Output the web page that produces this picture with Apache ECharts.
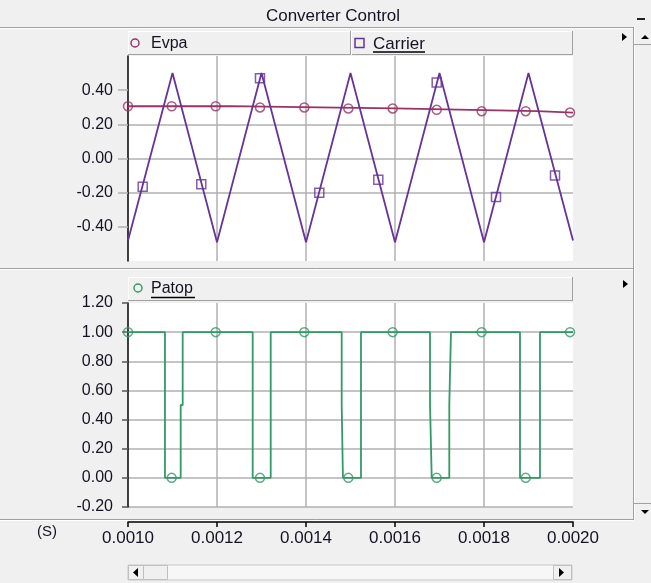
<!DOCTYPE html>
<html><head><meta charset="utf-8">
<script src="https://cdn.jsdelivr.net/npm/echarts@6/dist/echarts.min.js"></script>
<style>html,body{margin:0;padding:0;background:#f0f0f0}#c{width:651px;height:583px}</style>
</head><body><div id="c"></div><script>
// ---- data (time in seconds) ----
const timeMin = 0.0010, timeMax = 0.0020, timeStep = 0.0002;
const topYTicks = [-0.4, -0.2, 0.0, 0.2, 0.4];

const evpaT = [0.0010, 0.00123, 0.00143, 0.00160, 0.00177, 0.00192, 0.0020];
const evpaV = [0.306, 0.299, 0.293, 0.285, 0.277, 0.269, 0.269];
const evpaMarkT = [0.0010, 0.0010982, 0.0011971, 0.0012966, 0.0013962, 0.0014951, 0.0015948, 0.0016937, 0.0017948, 0.0018937, 0.0019933];
const evpaMarkV = [0.306, 0.306, 0.306, 0.299, 0.299, 0.293, 0.293, 0.285, 0.277, 0.277, 0.269];

const carrierT = [0.0010, 0.0011, 0.0012, 0.0013, 0.0014, 0.0015, 0.0016, 0.0017, 0.0018, 0.0019, 0.0020];
const carrierV = [-0.48, 0.50, -0.49, 0.50, -0.49, 0.50, -0.49, 0.50, -0.49, 0.50, -0.48];
const carrierMarkT = [0.0010330, 0.0011647, 0.0012966, 0.0014299, 0.0015625, 0.0016937, 0.0018270, 0.0019596];
const carrierMarkV = [-0.165, -0.150, 0.470, -0.200, -0.125, 0.445, -0.225, -0.100];

const patopT = [0.0010, 0.0010831, 0.0011184, 0.0011229, 0.0012802, 0.0013207, 0.0014802, 0.0014830, 0.0015236, 0.0016787, 0.0016825, 0.0017220, 0.0017258, 0.0018809, 0.0019258, 0.0020];
const patopV = [1, 0, 0.5, 1, 0, 1, 0.5, 0, 1, 0.5, 0, 0.5, 1, 0, 1, 1];
const patopMarkT = [0.0010, 0.0010982, 0.0011971, 0.0012966, 0.0013962, 0.0014951, 0.0015948, 0.0016937, 0.0017948, 0.0018937, 0.0019933];
const patopMarkV = [1, 0, 1, 0, 1, 0, 1, 0, 1, 0, 1];

// ---- build ----
const zip = (a, b) => a.map((t, i) => [t, b[i]]);
const FONT = '"Liberation Sans", Arial, sans-serif';
const TXT = '#131322';
const GRID = '#b0b0b0';
const C_EVPA = '#993366', C_CAR = '#663399', C_PAT = '#339966';

const chart = echarts.init(document.getElementById('c'), null, {renderer: 'canvas'});

function plotX(gi) {
  return {gridIndex: gi, type: 'value', min: timeMin, max: timeMax, interval: timeStep,
    axisLine: {show: false}, axisTick: {show: false}, axisLabel: {show: false},
    splitLine: {show: true, showMinLine: false, showMaxLine: false, lineStyle: {color: GRID, width: 1.5}}};
}

function hl(x1, x2, y, c) { return {type: 'line', shape: {x1, y1: y, x2, y2: y}, style: {stroke: c, lineWidth: 1}, silent: true}; }
function vl(x, y1, y2, c) { return {type: 'line', shape: {x1: x, y1, x2: x, y2}, style: {stroke: c, lineWidth: 1}, silent: true}; }
function tri(pts) { return {type: 'polygon', shape: {points: pts}, style: {fill: '#000'}, silent: true}; }
function txt(x, y, s, size, align) { return {type: 'text', x, y, style: {text: s, fill: TXT, font: size + 'px ' + FONT, textAlign: align || 'left', textVerticalAlign: 'middle'}, silent: true}; }
function bar(x, y, w, h) {
  return [
    {type: 'rect', shape: {x, y, width: w, height: h}, style: {fill: '#f0f0f0'}, silent: true},
    hl(x, x + w, y + 0.5, '#ffffff'), vl(x + 0.5, y, y + h, '#ffffff'),
    hl(x, x + w, y + h - 0.5, '#a0a0a0'), vl(x + w - 0.5, y, y + h, '#a0a0a0')
  ];
}

const graphics = [].concat(
  [txt(333, 16, 'Converter Control', 17, 'center'),
   hl(0, 633, 27.5, '#a0a0a0'), hl(0, 633, 28.5, '#ffffff'),
   {type: 'rect', shape: {x: 637, y: 18, width: 8, height: 2}, style: {fill: '#222'}, silent: true},
   vl(633.5, 27, 520, '#a0a0a0'), vl(634.5, 27, 520, '#ffffff'),
   hl(634, 651, 44.5, '#a0a0a0'), tri([[641, 39], [649, 39], [645, 35]]),
   hl(634, 651, 503.5, '#a0a0a0'), tri([[641, 510], [649, 510], [645, 514]]),
   tri([[622, 33], [622, 41], [627, 37]]),
   tri([[623, 280], [623, 288], [628, 284]])],
  bar(128, 31, 445, 24),
  [vl(350.5, 31, 55, '#a0a0a0'), vl(351.5, 31, 55, '#ffffff'),
   {type: 'circle', shape: {cx: 135, cy: 43, r: 4}, style: {fill: 'none', stroke: C_EVPA, lineWidth: 1.5}, silent: true},
   txt(151, 44, 'Evpa', 16),
   {type: 'rect', shape: {x: 355, y: 38.5, width: 9, height: 9}, style: {fill: 'none', stroke: C_CAR, lineWidth: 1.5}, silent: true},
   txt(373, 44, 'Carrier', 17),
   {type: 'line', shape: {x1: 373, y1: 52, x2: 425, y2: 52}, style: {stroke: '#000', lineWidth: 1.5}, silent: true},
   hl(0, 633, 268.5, '#a0a0a0'), hl(0, 633, 269.5, '#ffffff')],
  bar(128, 277, 445, 24),
  [{type: 'circle', shape: {cx: 138, cy: 288, r: 4}, style: {fill: 'none', stroke: C_PAT, lineWidth: 1.5}, silent: true},
   txt(151, 289, 'Patop', 16),
   {type: 'line', shape: {x1: 151, y1: 297.5, x2: 195, y2: 297.5}, style: {stroke: '#000', lineWidth: 1.5}, silent: true},
   hl(0, 633, 519.5, '#a0a0a0'), hl(0, 633, 520.5, '#ffffff'),
   txt(47, 532, '(S)', 15, 'center'),
   {type: 'rect', shape: {x: 128, y: 565, width: 444, height: 15}, style: {fill: '#f7f7f7', stroke: '#c8c8c8', lineWidth: 1}, silent: true},
   {type: 'rect', shape: {x: 128.5, y: 565.5, width: 15, height: 14}, style: {fill: '#f0f0f0', stroke: '#c0c0c0', lineWidth: 1}, silent: true},
   {type: 'rect', shape: {x: 143.5, y: 565.5, width: 24, height: 14}, style: {fill: '#f0f0f0', stroke: '#c0c0c0', lineWidth: 1}, silent: true},
   {type: 'rect', shape: {x: 553.5, y: 565.5, width: 18, height: 14}, style: {fill: '#f0f0f0', stroke: '#c0c0c0', lineWidth: 1}, silent: true},
   tri([[138, 568], [138, 577], [133, 572.5]]),
   tri([[559, 568], [559, 577], [564, 572.5]])]
);

const option = {
  animation: false,
  backgroundColor: '#f0f0f0',
  textStyle: {fontFamily: FONT},
  grid: [
    {left: 128, top: 56, width: 445, height: 205, show: true, backgroundColor: '#ffffff', borderWidth: 0},
    {left: 128, top: 303, width: 445, height: 204, show: true, backgroundColor: '#ffffff', borderWidth: 0},
    {left: 128, top: 520, width: 445, height: 2}
  ],
  xAxis: [
    plotX(0), plotX(1),
    {gridIndex: 2, type: 'value', min: timeMin, max: timeMax, interval: timeStep, position: 'bottom',
      axisLine: {show: true, lineStyle: {color: '#000', width: 1.5}},
      axisTick: {show: true, length: 5, lineStyle: {color: '#000', width: 1.5}},
      axisLabel: {fontSize: 17, color: TXT, margin: 8, fontFamily: FONT, formatter: v => v.toFixed(4)},
      splitLine: {show: false}}
  ],
  yAxis: [
    {gridIndex: 0, type: 'value', min: -0.6, max: 0.6, interval: 0.2,
      axisLine: {show: true, onZero: false, lineStyle: {color: '#000', width: 1.5}},
      axisTick: {show: true, length: 10, customValues: topYTicks, lineStyle: {color: GRID, width: 1.5}},
      axisLabel: {fontSize: 16, color: TXT, margin: 15, fontFamily: FONT, customValues: topYTicks,
        formatter: v => Math.abs(v) > 0.5 ? '' : v.toFixed(2)},
      splitLine: {show: true, showMinLine: false, showMaxLine: false, lineStyle: {color: GRID, width: 1.5}}},
    {gridIndex: 1, type: 'value', min: -0.2, max: 1.2, interval: 0.2,
      axisLine: {show: true, onZero: false, lineStyle: {color: '#000', width: 1.5}},
      axisTick: {show: true, length: 6, lineStyle: {color: '#555', width: 1.5}},
      axisLabel: {fontSize: 16, color: TXT, margin: 15, fontFamily: FONT, formatter: v => v.toFixed(2)},
      splitLine: {show: true, showMinLine: true, showMaxLine: false, lineStyle: {color: GRID, width: 1.5}}},
    {gridIndex: 2, type: 'value', show: false}
  ],
  series: [
    {name: 'Evpa', type: 'line', xAxisIndex: 0, yAxisIndex: 0, step: 'end', data: zip(evpaT, evpaV),
      symbol: 'none', lineStyle: {color: C_EVPA, width: 1.8}},
    {name: 'Carrier', type: 'line', xAxisIndex: 0, yAxisIndex: 0, data: zip(carrierT, carrierV),
      symbol: 'none', lineStyle: {color: C_CAR, width: 1.8}},
    {name: 'Evpa marks', type: 'scatter', xAxisIndex: 0, yAxisIndex: 0, data: zip(evpaMarkT, evpaMarkV),
      symbol: 'circle', symbolSize: 9, itemStyle: {color: 'transparent', borderColor: C_EVPA, borderWidth: 1.5}},
    {name: 'Carrier marks', type: 'scatter', xAxisIndex: 0, yAxisIndex: 0, data: zip(carrierMarkT, carrierMarkV),
      symbol: 'rect', symbolSize: 9, itemStyle: {color: 'transparent', borderColor: C_CAR, borderWidth: 1.5}},
    {name: 'Patop', type: 'line', xAxisIndex: 1, yAxisIndex: 1, step: 'end', data: zip(patopT, patopV),
      symbol: 'none', lineStyle: {color: C_PAT, width: 1.8}},
    {name: 'Patop marks', type: 'scatter', xAxisIndex: 1, yAxisIndex: 1, data: zip(patopMarkT, patopMarkV),
      symbol: 'circle', symbolSize: 9, itemStyle: {color: 'transparent', borderColor: C_PAT, borderWidth: 1.5}}
  ],
  graphic: graphics
};
chart.setOption(option);
</script></body></html>
